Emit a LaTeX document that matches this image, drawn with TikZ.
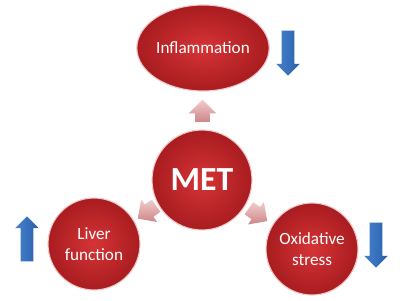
\documentclass[tikz,border=0pt]{standalone}
\usepackage{fontspec}
\setmainfont{Carlito}
\usetikzlibrary{shapes.geometric,shapes.arrows,calc}

\definecolor{metred}{RGB}{214,52,54}
\definecolor{metdark}{RGB}{168,28,32}
\definecolor{metrim}{RGB}{240,200,200}
\definecolor{pinklight}{RGB}{240,200,200}
\definecolor{pinkdark}{RGB}{200,120,122}
\definecolor{bluearrow}{RGB}{70,130,205}
\definecolor{bluedark}{RGB}{42,95,170}

\begin{document}
\begin{tikzpicture}[
    bubble/.style={circle, draw=metrim, line width=0.8pt, inner color=metred, outer color=metdark, text=white, font=\fontsize{12.2}{14.5}\selectfont, align=center},
    effect/.style={single arrow, single arrow head extend=1.4mm, single arrow head indent=0mm, inner sep=1.5mm, minimum height=11.25mm, left color=bluearrow, right color=bluedark, draw=none},
    link/.style={single arrow, single arrow head extend=1.6mm, single arrow head indent=0mm, inner sep=1.8mm, minimum height=4.6mm, top color=pinklight, bottom color=pinkdark, draw=none, opacity=0.9}
]

    \useasboundingbox (0,0) rectangle (10,7.5);

    \node[bubble, ellipse, inner sep=0pt, minimum width=3.3cm, minimum height=2.15cm] (infl) at (5.075,6.3) {Inflammation};
    \node[bubble, minimum size=2.5cm, font=\fontsize{24}{28}\selectfont\bfseries] (met) at (5.05,3.0) {MET};
    \node[bubble, minimum size=2.3cm] (liver) at (2.35,1.4) {Liver\\function};
    \node[bubble, minimum size=2.3cm] (oxid) at (7.8,1.275) {Oxidative\\stress};

    \node[link, rotate=90] (l1) at ($(met.north)!0.5!(infl.south)+(0,-0.1)$) {};
    \node[link, rotate=215] (l2) at ($(met.center)!0.5!(liver.center)+(0.05,0.05)$) {};
    \node[link, rotate=-35] (l3) at ($(met.center)!0.5!(oxid.center)+(-0.05,0.05)$) {};

    \node[effect, rotate=-90] (a1) at (7.2,6.25) {};
    \node[effect, rotate=90] (a2) at (0.675,1.45) {};
    \node[effect, rotate=-90] (a3) at (9.4,1.45) {};

\end{tikzpicture}
\end{document}
